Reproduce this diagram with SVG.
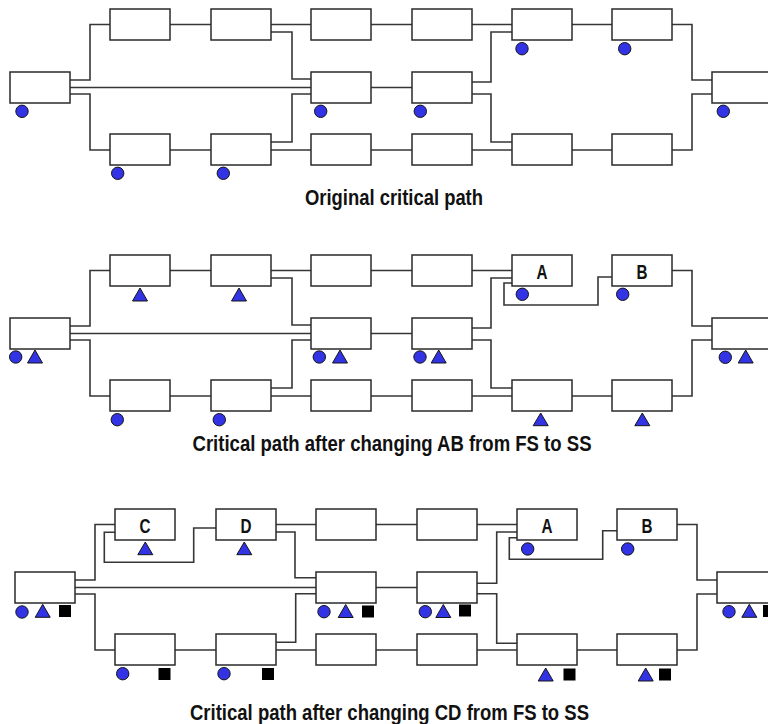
<svg xmlns="http://www.w3.org/2000/svg" width="768" height="724" viewBox="0 0 768 724">
<style>
.box{fill:#fff;stroke:#2a2a2a;stroke-width:1.5}
.ln{fill:none;stroke:#363636;stroke-width:1.6}
.dot{fill:#3333e6;stroke:#151515;stroke-width:1}
.sq{fill:#000}
.cap{font-family:"Liberation Sans",Arial,sans-serif;font-weight:bold;font-size:22px;text-anchor:middle;fill:#111}
.lbl{font-family:"Liberation Sans",Arial,sans-serif;font-weight:bold;font-size:21px;text-anchor:middle;fill:#111}
</style>
<rect width="768" height="724" fill="#fff"/>

<!-- Diagram 1 -->
<g id="d1">
<g id="d1-connectors">
<path class="ln" d="M70,80 H90 V24.5 H110"/>
<path class="ln" d="M70,87.5 H311"/>
<path class="ln" d="M70,94 H90 V150 H110"/>
<path class="ln" d="M170,24.5 H211"/>
<path class="ln" d="M271,24.5 H311"/>
<path class="ln" d="M271,32 H292 V79 H311"/>
<path class="ln" d="M371,24.5 H412"/>
<path class="ln" d="M472,24.5 H512"/>
<path class="ln" d="M572,24.5 H612"/>
<path class="ln" d="M672,24.5 H692 V80 H712"/>
<path class="ln" d="M170,150 H211"/>
<path class="ln" d="M271,142 H292 V94 H311"/>
<path class="ln" d="M271,150 H311"/>
<path class="ln" d="M371,150 H412"/>
<path class="ln" d="M472,150 H512"/>
<path class="ln" d="M572,150 H612"/>
<path class="ln" d="M672,150 H692 V94 H712"/>
<path class="ln" d="M371,87.5 H412"/>
<path class="ln" d="M472,82 H491 V32 H512"/>
<path class="ln" d="M472,94 H491 V142 H512"/>
</g>
<g id="d1-S"><rect class="box" x="10" y="72" width="60" height="31"/><circle class="dot" cx="22" cy="111.3" r="6.2"/></g>
<g id="d1-T1"><rect class="box" x="110" y="9" width="60" height="31"/></g>
<g id="d1-T2"><rect class="box" x="211" y="9" width="60" height="31"/></g>
<g id="d1-T3"><rect class="box" x="311" y="9" width="60" height="31"/></g>
<g id="d1-T4"><rect class="box" x="412" y="9" width="60" height="31"/></g>
<g id="d1-T5"><rect class="box" x="512" y="9" width="60" height="31"/><circle class="dot" cx="522" cy="48.7" r="6.2"/></g>
<g id="d1-T6"><rect class="box" x="612" y="9" width="60" height="31"/><circle class="dot" cx="624.7" cy="48.7" r="6.2"/></g>
<g id="d1-M1"><rect class="box" x="311" y="72" width="60" height="31"/><circle class="dot" cx="320.7" cy="111.3" r="6.2"/></g>
<g id="d1-M2"><rect class="box" x="412" y="72" width="60" height="31"/><circle class="dot" cx="420.3" cy="111.3" r="6.2"/></g>
<g id="d1-B1"><rect class="box" x="110" y="134" width="60" height="31"/><circle class="dot" cx="117.7" cy="173.3" r="6.2"/></g>
<g id="d1-B2"><rect class="box" x="211" y="134" width="60" height="31"/><circle class="dot" cx="223.3" cy="173.3" r="6.2"/></g>
<g id="d1-B3"><rect class="box" x="311" y="134" width="60" height="31"/></g>
<g id="d1-B4"><rect class="box" x="412" y="134" width="60" height="31"/></g>
<g id="d1-B5"><rect class="box" x="512" y="134" width="60" height="31"/></g>
<g id="d1-B6"><rect class="box" x="612" y="134" width="60" height="31"/></g>
<g id="d1-E"><rect class="box" x="712" y="72" width="60" height="31"/><circle class="dot" cx="723.3" cy="111.3" r="6.2"/></g>
</g>
<text class="cap" x="394" y="204.5" textLength="178" lengthAdjust="spacingAndGlyphs">Original critical path</text>

<!-- Diagram 2 -->
<g id="d2" transform="translate(0,246)">
<g id="d2-connectors">
<path class="ln" d="M70,80 H90 V24.5 H110"/>
<path class="ln" d="M70,87.5 H311"/>
<path class="ln" d="M70,94 H90 V150 H110"/>
<path class="ln" d="M170,24.5 H211"/>
<path class="ln" d="M271,24.5 H311"/>
<path class="ln" d="M271,32 H292 V79 H311"/>
<path class="ln" d="M371,24.5 H412"/>
<path class="ln" d="M472,24.5 H512"/>
<path class="ln" d="M512,37 H504 V59 H598 V31 H612"/>
<path class="ln" d="M672,24.5 H692 V80 H712"/>
<path class="ln" d="M170,150 H211"/>
<path class="ln" d="M271,142 H292 V94 H311"/>
<path class="ln" d="M271,150 H311"/>
<path class="ln" d="M371,150 H412"/>
<path class="ln" d="M472,150 H512"/>
<path class="ln" d="M572,150 H612"/>
<path class="ln" d="M672,150 H692 V94 H712"/>
<path class="ln" d="M371,87.5 H412"/>
<path class="ln" d="M472,82 H491 V32 H512"/>
<path class="ln" d="M472,94 H491 V142 H512"/>
</g>
<g id="d2-S"><rect class="box" x="10" y="72" width="60" height="31"/><circle class="dot" cx="15.7" cy="111" r="6.2"/><polygon class="dot" points="27.5,117 35,104 42.5,117"/></g>
<g id="d2-T1"><rect class="box" x="110" y="9" width="60" height="31"/><polygon class="dot" points="132.5,55 140,42 147.5,55"/></g>
<g id="d2-T2"><rect class="box" x="211" y="9" width="60" height="31"/><polygon class="dot" points="231.5,55 239,42 246.5,55"/></g>
<g id="d2-T3"><rect class="box" x="311" y="9" width="60" height="31"/></g>
<g id="d2-T4"><rect class="box" x="412" y="9" width="60" height="31"/></g>
<g id="d2-A"><rect class="box" x="512" y="9" width="60" height="31"/><text class="lbl" x="542" y="32.5" textLength="11" lengthAdjust="spacingAndGlyphs">A</text><circle class="dot" cx="522.3" cy="48.3" r="6.2"/></g>
<g id="d2-B"><rect class="box" x="612" y="9" width="60" height="31"/><text class="lbl" x="642" y="32.5" textLength="11" lengthAdjust="spacingAndGlyphs">B</text><circle class="dot" cx="622.7" cy="48.3" r="6.2"/></g>
<g id="d2-M1"><rect class="box" x="311" y="72" width="60" height="31"/><circle class="dot" cx="319.3" cy="111" r="6.2"/><polygon class="dot" points="332.5,117 340,104 347.5,117"/></g>
<g id="d2-M2"><rect class="box" x="412" y="72" width="60" height="31"/><circle class="dot" cx="420" cy="111" r="6.2"/><polygon class="dot" points="431.2,117 438.7,104 446.2,117"/></g>
<g id="d2-B1"><rect class="box" x="110" y="134" width="60" height="31"/><circle class="dot" cx="117.3" cy="173.7" r="6.2"/></g>
<g id="d2-B2"><rect class="box" x="211" y="134" width="60" height="31"/><circle class="dot" cx="219.3" cy="173.7" r="6.2"/></g>
<g id="d2-B3"><rect class="box" x="311" y="134" width="60" height="31"/></g>
<g id="d2-B4"><rect class="box" x="412" y="134" width="60" height="31"/></g>
<g id="d2-B5"><rect class="box" x="512" y="134" width="60" height="31"/><polygon class="dot" points="533.2,179.7 540.7,167 548.2,179.7"/></g>
<g id="d2-B6"><rect class="box" x="612" y="134" width="60" height="31"/><polygon class="dot" points="634.8,179.7 642.3,167 649.8,179.7"/></g>
<g id="d2-E"><rect class="box" x="712" y="72" width="60" height="31"/><circle class="dot" cx="725.3" cy="111.3" r="6.2"/><polygon class="dot" points="738.2,117 745.7,104 753.2,117"/></g>
</g>
<text class="cap" x="392" y="450.5" textLength="399" lengthAdjust="spacingAndGlyphs">Critical path after changing AB from FS to SS</text>

<!-- Diagram 3 -->
<g id="d3" transform="translate(5,500)">
<g id="d3-connectors">
<path class="ln" d="M70,80 H90 V24.5 H110"/>
<path class="ln" d="M70,87.5 H311"/>
<path class="ln" d="M70,94 H90 V150 H110"/>
<path class="ln" d="M110,32.3 H99.3 V62.3 H188.7 V28 H211"/>
<path class="ln" d="M271,24.5 H311"/>
<path class="ln" d="M271,32 H290 V77.7 H311"/>
<path class="ln" d="M371,24.5 H412"/>
<path class="ln" d="M472,24.5 H512"/>
<path class="ln" d="M512,37.7 H504.3 V59.3 H597.7 V30.7 H612"/>
<path class="ln" d="M672,24.5 H692 V80 H712"/>
<path class="ln" d="M170,150 H211"/>
<path class="ln" d="M271,142.3 H290.7 V93.7 H311"/>
<path class="ln" d="M271,150 H311"/>
<path class="ln" d="M371,150 H412"/>
<path class="ln" d="M472,150 H512"/>
<path class="ln" d="M572,150 H612"/>
<path class="ln" d="M672,150 H692 V94 H712"/>
<path class="ln" d="M371,87.5 H412"/>
<path class="ln" d="M472,83.3 H491.7 V32 H512"/>
<path class="ln" d="M472,93.7 H491.7 V143.3 H512"/>
</g>
<g id="d3-S"><rect class="box" x="10" y="72" width="60" height="31"/><circle class="dot" cx="17" cy="112" r="6.2"/><polygon class="dot" points="30.2,117.3 37.7,104.3 45.2,117.3"/><rect class="sq" x="54" y="105" width="12" height="12"/></g>
<g id="d3-C"><rect class="box" x="110" y="9" width="60" height="31"/><text class="lbl" x="140" y="32.5" textLength="11" lengthAdjust="spacingAndGlyphs">C</text><polygon class="dot" points="132.8,54.7 140.3,42 147.8,54.7"/></g>
<g id="d3-D"><rect class="box" x="211" y="9" width="60" height="31"/><text class="lbl" x="241" y="32.5" textLength="11" lengthAdjust="spacingAndGlyphs">D</text><polygon class="dot" points="231.8,54.7 239.3,42 246.8,54.7"/></g>
<g id="d3-T3"><rect class="box" x="311" y="9" width="60" height="31"/></g>
<g id="d3-T4"><rect class="box" x="412" y="9" width="60" height="31"/></g>
<g id="d3-A"><rect class="box" x="512" y="9" width="60" height="31"/><text class="lbl" x="542" y="32.5" textLength="11" lengthAdjust="spacingAndGlyphs">A</text><circle class="dot" cx="522.7" cy="49" r="6.2"/></g>
<g id="d3-B"><rect class="box" x="612" y="9" width="60" height="31"/><text class="lbl" x="642" y="32.5" textLength="11" lengthAdjust="spacingAndGlyphs">B</text><circle class="dot" cx="622.7" cy="49" r="6.2"/></g>
<g id="d3-M1"><rect class="box" x="311" y="72" width="60" height="31"/><circle class="dot" cx="319" cy="111.7" r="6.2"/><polygon class="dot" points="333.2,117.5 340.7,104.5 348.2,117.5"/><rect class="sq" x="357" y="105.5" width="12" height="12"/></g>
<g id="d3-M2"><rect class="box" x="412" y="72" width="60" height="31"/><circle class="dot" cx="420.3" cy="111.7" r="6.2"/><polygon class="dot" points="430.8,117.5 438.3,104.5 445.8,117.5"/><rect class="sq" x="454" y="104.5" width="12" height="12"/></g>
<g id="d3-B1"><rect class="box" x="110" y="134" width="60" height="31"/><circle class="dot" cx="117.7" cy="173.7" r="6.2"/><rect class="sq" x="153.5" y="168" width="12" height="12"/></g>
<g id="d3-B2"><rect class="box" x="211" y="134" width="60" height="31"/><circle class="dot" cx="219" cy="173.7" r="6.2"/><rect class="sq" x="257" y="168" width="12" height="12"/></g>
<g id="d3-B3"><rect class="box" x="311" y="134" width="60" height="31"/></g>
<g id="d3-B4"><rect class="box" x="412" y="134" width="60" height="31"/></g>
<g id="d3-B5"><rect class="box" x="512" y="134" width="60" height="31"/><polygon class="dot" points="533.2,181 540.7,168 548.2,181"/><rect class="sq" x="558.5" y="168.5" width="12" height="12"/></g>
<g id="d3-B6"><rect class="box" x="612" y="134" width="60" height="31"/><polygon class="dot" points="633.2,181 640.7,168 648.2,181"/><rect class="sq" x="654" y="168.5" width="12" height="12"/></g>
<g id="d3-E"><rect class="box" x="712" y="72" width="60" height="31"/><circle class="dot" cx="724" cy="111.7" r="6.2"/><polygon class="dot" points="736.8,117.3 744.3,104.3 751.8,117.3"/><rect class="sq" x="758" y="105" width="12" height="12"/></g>
</g>
<text class="cap" x="389.5" y="719.5" textLength="399" lengthAdjust="spacingAndGlyphs">Critical path after changing CD from FS to SS</text>
</svg>
